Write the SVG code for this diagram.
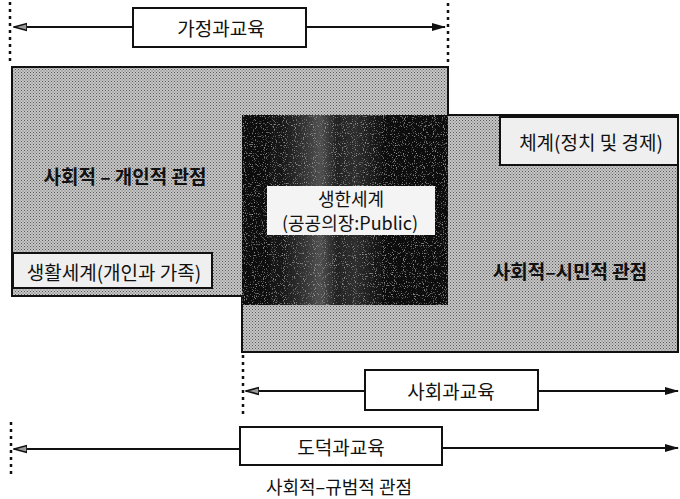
<svg xmlns="http://www.w3.org/2000/svg" width="680" height="499" viewBox="0 0 680 499">
<style>
text{font-family:"Noto Sans CJK KR","Noto Sans",sans-serif;fill:#111;text-anchor:middle;dominant-baseline:central}
.lbl{font-size:19px}
.bold{font-size:19px;font-weight:bold}
.box{fill:#fff;stroke:#111;stroke-width:2}
.lbox{fill:#efefef;stroke:#111;stroke-width:2}
.dot{stroke:#111;stroke-width:2.5;stroke-dasharray:3 4;fill:none}
.line{stroke:#111;stroke-width:2;fill:none}
</style>
<defs>
<pattern id="dith" width="3" height="3" patternUnits="userSpaceOnUse">
<rect width="3" height="3" fill="#c6c6c6"/>
<rect x="0" y="0" width="1" height="1" fill="#5a5a5a"/>
<rect x="1.5" y="1.5" width="1" height="1" fill="#6a6a6a"/>
</pattern>
<linearGradient id="dark" x1="0" y1="0" x2="1" y2="0">
<stop offset="0" stop-color="#0a0a0a"/>
<stop offset="0.18" stop-color="#141414"/>
<stop offset="0.3" stop-color="#333"/>
<stop offset="0.38" stop-color="#505050"/>
<stop offset="0.46" stop-color="#222"/>
<stop offset="0.55" stop-color="#2e2e2e"/>
<stop offset="0.68" stop-color="#111"/>
<stop offset="1" stop-color="#070707"/>
</linearGradient>
<filter id="noise" x="0" y="0" width="1" height="1">
<feTurbulence type="fractalNoise" baseFrequency="0.9" numOctaves="1" seed="3" result="n"/>
<feColorMatrix in="n" type="matrix" values="0 0 0 0 1  0 0 0 0 1  0 0 0 0 1  0 0 0 1.6 -0.95" result="w"/>
<feComposite in="w" in2="SourceGraphic" operator="in" result="wm"/>
<feMerge><feMergeNode in="SourceGraphic"/><feMergeNode in="wm"/></feMerge>
</filter>
<marker id="arrR" viewBox="0 0 14 10" refX="13" refY="5" markerWidth="14" markerHeight="10" markerUnits="userSpaceOnUse" orient="auto">
<path d="M0,1 L14,5 L0,9 Z" fill="#111"/>
</marker>
<marker id="arrL" viewBox="0 0 14 10" refX="13" refY="5" markerWidth="14" markerHeight="10" markerUnits="userSpaceOnUse" orient="auto">
<path d="M0,1.5 L13,5 L0,8.5 Z" fill="#999" stroke="#111" stroke-width="1.6"/>
</marker>
</defs>

<g id="field">
<path d="M12,67 H448 V115 H678 V352 H242 V296 H12 Z" fill="url(#dith)" stroke="#111" stroke-width="2"/>
<rect x="242" y="115" width="206" height="190" fill="url(#dark)" filter="url(#noise)"/>
</g>

<g id="connectors">
<line class="dot" x1="10" y1="2" x2="10" y2="63"/>
<line class="dot" x1="448" y1="3" x2="448" y2="63"/>
<line class="line" x1="133" y1="27" x2="14" y2="27" marker-end="url(#arrL)"/>
<line class="line" x1="306" y1="27" x2="445" y2="27" marker-end="url(#arrR)"/>
<line class="dot" x1="243" y1="355" x2="243" y2="418"/>
<line class="line" x1="365" y1="391" x2="246" y2="391" marker-end="url(#arrL)"/>
<line class="line" x1="538" y1="391" x2="678" y2="391" marker-end="url(#arrR)"/>
<line class="dot" x1="11" y1="422" x2="11" y2="478"/>
<line class="line" x1="240" y1="449" x2="14" y2="449" marker-end="url(#arrL)"/>
<line class="line" x1="442" y1="448" x2="678" y2="448" marker-end="url(#arrR)"/>
</g>

<g id="home-edu">
<rect class="box" x="133" y="8" width="173" height="39"/>
<text class="lbl" x="221" y="27">가정과교육</text>
</g>

<g id="personal-view">
<text class="bold" x="125" y="175">사회적 – 개인적 관점</text>
</g>

<g id="lifeworld-private">
<rect class="lbox" x="13" y="253" width="199" height="35"/>
<text class="lbl" x="114" y="271">생활세계(개인과 가족)</text>
</g>

<g id="lifeworld-public">
<rect x="267" y="186" width="168" height="49" fill="#f4f4f4"/>
<text class="lbl" x="351" y="198" style="font-size:18px">생한세계</text>
<text class="lbl" x="350" y="222" style="font-size:18px">(공공의장:Public)</text>
</g>

<g id="system">
<rect class="lbox" x="500" y="117" width="178" height="48"/>
<text class="lbl" x="591" y="141">체계(정치 및 경제)</text>
</g>

<g id="civic-view">
<text class="bold" x="570" y="270">사회적–시민적 관점</text>
</g>

<g id="social-edu">
<rect class="box" x="365" y="370" width="173" height="40"/>
<text class="lbl" x="451" y="390">사회과교육</text>
</g>

<g id="moral-edu">
<rect class="box" x="240" y="427" width="202" height="38"/>
<text class="lbl" x="341" y="446">도덕과교육</text>
</g>

<g id="normative-view">
<text class="lbl" x="339" y="486" style="font-size:18px">사회적–규범적 관점</text>
</g>
</svg>
